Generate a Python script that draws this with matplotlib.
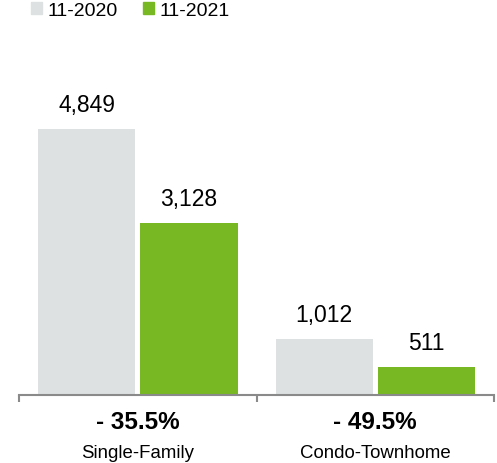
import matplotlib
matplotlib.use("Agg")
import matplotlib.pyplot as plt
from matplotlib.patches import Patch
import numpy as np

plt.rcParams['font.family'] = ['Liberation Sans', 'DejaVu Sans']

categories = ["Single-Family", "Condo-Townhome"]
series_names = ["11-2020", "11-2021"]
values_2020 = [4849, 1012]
values_2021 = [3128, 511]
colors = ["#dde1e1", "#78b823"]

fig = plt.figure(figsize=(4.97, 4.64), dpi=100)
ax = fig.add_axes([19/497, 1-396/464, 475/497, 366/464])

x = np.arange(len(categories))
off = 0.215
w = 0.41
b1 = ax.bar(x - off, values_2020, width=w, color=colors[0])
b2 = ax.bar(x + off, values_2021, width=w, color=colors[1])

for bars, vals in ((b1, values_2020), (b2, values_2021)):
    for r, v in zip(bars, vals):
        ax.annotate(f"{v:,}", (r.get_x() + r.get_width()/2, v), xytext=(0, 9.5),
                    textcoords="offset points", ha="center", va="bottom", fontsize=16.5)

ax.set_xlim(-0.5, len(categories) - 0.5)
ax.set_ylim(0, 366/266*4849)
for s in ("top", "right", "left"):
    ax.spines[s].set_visible(False)
ax.spines["bottom"].set_color("#8a8a8a")
ax.spines["bottom"].set_linewidth(1.5)
ax.set_yticks([])
ax.set_xticks(np.arange(len(categories) + 1) - 0.5)
ax.set_xticklabels([])
ax.tick_params(axis="x", direction="out", length=5, width=1.5, color="#8a8a8a")

for i, cat in enumerate(categories):
    pct = (values_2021[i] - values_2020[i]) / values_2020[i] * 100
    sign = "-" if pct < 0 else "+"
    ax.annotate(f"{sign} {abs(pct):.1f}%", (i, 0), xycoords=("data", "axes fraction"),
                xytext=(0, -19), textcoords="offset points", ha="center", va="center",
                fontsize=17.5, fontweight="bold")
    ax.annotate(cat, (i, 0), xycoords=("data", "axes fraction"),
                xytext=(0, -41.5), textcoords="offset points", ha="center", va="center",
                fontsize=13.4)

handles = [Patch(color=c) for c in colors]
fig.legend(handles, series_names, loc="upper left", bbox_to_anchor=(0.028, 1.032), ncol=2,
           frameon=False, fontsize=14, handlelength=0.55, handleheight=0.55,
           handletextpad=0.3, columnspacing=1.3)

fig.savefig("out.png", dpi=100)
